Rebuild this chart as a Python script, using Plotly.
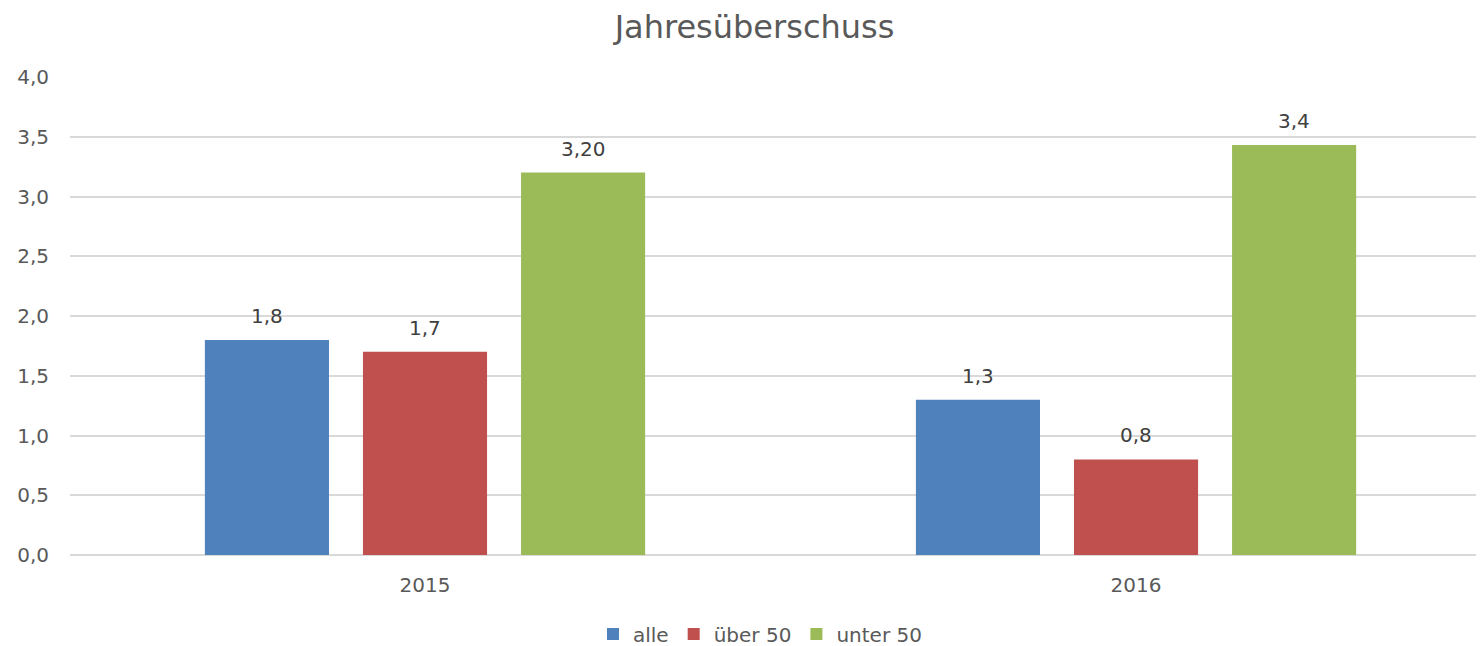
import plotly.graph_objects as go

categories = ["2015", "2016"]
series_names = ["alle", "über 50", "unter 50"]
alle = [1.8, 1.3]
ueber50 = [1.7, 0.8]
unter50 = [3.2, 3.43]
labels_alle = ["1,8", "1,3"]
labels_ueber50 = ["1,7", "0,8"]
labels_unter50 = ["3,20", "3,4"]
colors = ["#4F81BD", "#C0504D", "#9BBB59"]

FONT = "DejaVu Sans"
GRAY = "#595959"
SLOT_PX = 158  # horizontal distance between grouped bars (style)

fig = go.Figure()
annotations = []
series = [alle, ueber50, unter50]
labels = [labels_alle, labels_ueber50, labels_unter50]
for k, (name, vals, labs, col) in enumerate(zip(series_names, series, labels, colors)):
    fig.add_trace(go.Bar(
        x=categories, y=vals, name=name, marker_color=col, marker_line_width=0,
    ))
    for i, (v, lab) in enumerate(zip(vals, labs)):
        annotations.append(dict(
            x=i, y=v, xref="x", yref="y", text=lab, showarrow=False,
            xanchor="center", yanchor="middle", xshift=(k - 1) * SLOT_PX, yshift=24,
            font=dict(family=FONT, size=20, color="#404040"),
        ))

fig.update_layout(
    width=1476, height=646,
    margin=dict(l=62, r=0, t=69, b=99),
    paper_bgcolor="white", plot_bgcolor="white",
    separators=",.",
    barmode="group", bargap=0.333, bargroupgap=0.215,
    title=dict(text="Jahresüberschuss", x=746.5 / 1476, xanchor="center", xref="container",
               y=1 - 19 / 646, yanchor="middle", yref="container",
               font=dict(family=FONT, size=32, color=GRAY)),
    font=dict(family=FONT, color=GRAY, size=20),
    legend=dict(orientation="h", x=752 / 1476, xanchor="center", xref="container",
                y=1 - 626 / 646, yanchor="middle", yref="container",
                font=dict(family=FONT, size=20, color=GRAY), itemwidth=30,
                traceorder="normal"),
    showlegend=True,
    annotations=annotations,
)
fig.update_yaxes(range=[0, 4], dtick=0.5, tickformat=".1f", showgrid=True,
                 gridcolor="#D9D9D9", gridwidth=1.5, zeroline=True, zerolinecolor="#D9D9D9",
                 zerolinewidth=1.5, showline=False, ticks="", ticklen=0,
                 tickfont=dict(family=FONT, size=20, color=GRAY), ticklabelstandoff=20)
fig.update_xaxes(type="category", range=[-0.4993, 1.4894], showline=False, ticks="",
                 ticklabelstandoff=16, tickfont=dict(family=FONT, size=20, color=GRAY))

fig.write_html("out.html")
